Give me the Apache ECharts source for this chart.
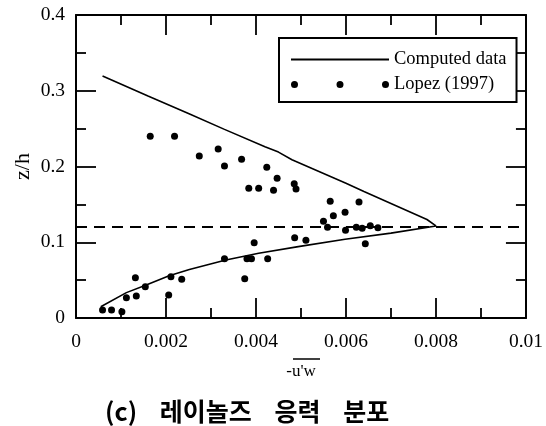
<!DOCTYPE html>
<html>
<head>
<meta charset="utf-8">
<script src="https://cdn.jsdelivr.net/npm/echarts@6/dist/echarts.min.js"></script>
<style>
  html, body { margin: 0; padding: 0; background: #fff; }
  #chart { width: 546px; height: 426px; }
</style>
</head>
<body>
<div id="chart"></div>
<script>
// ---- data ----
const xTickLabels = ['0', '0.002', '0.004', '0.006', '0.008', '0.01'];
const yTickLabels = ['0', '0.1', '0.2', '0.3', '0.4'];

// Computed data: upper branch (top-left to apex) then lower branch (apex to bottom-left)
const computedU = [0.00059, 0.0016, 0.0025, 0.0033, 0.0042, 0.0045, 0.0048, 0.0060, 0.0064, 0.0072, 0.0078, 0.0080,
                   0.0070, 0.00598, 0.00494, 0.00406, 0.00333, 0.00252, 0.00207, 0.00156, 0.00112, 0.00055];
const computedZ = [0.3195, 0.293, 0.270, 0.249, 0.226, 0.219, 0.209, 0.178, 0.167, 0.146, 0.130, 0.1215,
                   0.112, 0.104, 0.0942, 0.0854, 0.0766, 0.064, 0.0557, 0.0436, 0.0335, 0.0149];

// Lopez (1997) measurements
const lopezU = [0.00059, 0.00079, 0.00102, 0.00112, 0.00134, 0.00132, 0.00154, 0.00165, 0.00219, 0.00206,
                0.00211, 0.00235, 0.00274, 0.00316, 0.00330, 0.00330, 0.00368, 0.00384, 0.00406, 0.00375,
                0.00380, 0.00390, 0.00396, 0.00424, 0.00426, 0.00439, 0.00447, 0.00485, 0.00489, 0.00486,
                0.00511, 0.00550, 0.00559, 0.00565, 0.00572, 0.00598, 0.00599, 0.00623, 0.00629, 0.00636,
                0.00643, 0.00654, 0.00671];
const lopezZ = [0.0106, 0.0106, 0.0084, 0.0268, 0.0290, 0.0532, 0.0414, 0.240, 0.240, 0.0304,
                0.0546, 0.0510, 0.2139, 0.2231, 0.2007, 0.0783, 0.2095, 0.1712, 0.1712, 0.0519,
                0.0783, 0.0783, 0.0994, 0.1989, 0.0783, 0.1685, 0.1844, 0.1773, 0.1703, 0.1060,
                0.1026, 0.1276, 0.1197, 0.1540, 0.1351, 0.1395, 0.1157, 0.1197, 0.1531, 0.1184,
                0.0981, 0.1219, 0.1193];

const referenceLevel = 0.1175;

// ---- chart ----
const serif = 'Liberation Serif';
const computedData = computedU.map((u, i) => [u, computedZ[i]]);
const lopezData = lopezU.map((u, i) => [u, lopezZ[i]]);

const tickStyle = { color: '#000', width: 1.8 };
function xAxisBase(position, showLabel) {
  return {
    type: 'value', position: position, min: 0, max: 0.01, interval: 0.002,
    axisLine: { show: true, onZero: false, lineStyle: { color: '#000', width: 2 } },
    axisTick: { show: true, inside: true, length: 20, lineStyle: tickStyle },
    minorTick: { show: true, splitNumber: 2, length: 10, lineStyle: tickStyle },
    splitLine: { show: false }, minorSplitLine: { show: false },
    axisLabel: {
      show: showLabel, margin: 14, color: '#000', fontFamily: serif, fontSize: 19.5,
      formatter: v => xTickLabels[Math.round(v / 0.002)]
    }
  };
}
function yAxisBase(position, showLabel) {
  return {
    type: 'value', position: position, min: 0, max: 0.4, interval: 0.1,
    axisLine: { show: true, onZero: false, lineStyle: { color: '#000', width: 2 } },
    axisTick: { show: true, inside: true, length: 20, lineStyle: tickStyle },
    minorTick: { show: true, splitNumber: 2, length: 10, lineStyle: tickStyle },
    splitLine: { show: false }, minorSplitLine: { show: false },
    axisLabel: {
      show: showLabel, margin: 11, color: '#000', fontFamily: serif, fontSize: 19.5,
      formatter: v => yTickLabels[Math.round(v / 0.1)]
    }
  };
}

const xBottom = xAxisBase('bottom', true);
Object.assign(xBottom, {
  name: "-u'w", nameLocation: 'middle', nameGap: 45, nameMoveOverlap: false,
  nameTextStyle: { color: '#000', fontFamily: serif, fontSize: 17 }
});
const yLeft = yAxisBase('left', true);
Object.assign(yLeft, {
  name: 'z/h', nameLocation: 'middle', nameGap: 42, nameRotate: 90, nameMoveOverlap: false,
  nameTextStyle: { color: '#000', fontFamily: serif, fontSize: 22 }
});

const lineIcon = 'path://M0,0H98V2H0Z';
const dotsIcon = 'path://M0,3.5a3.5,3.5 0 1,0 7,0a3.5,3.5 0 1,0 -7,0M45.5,3.5a3.5,3.5 0 1,0 7,0a3.5,3.5 0 1,0 -7,0M91,3.5a3.5,3.5 0 1,0 7,0a3.5,3.5 0 1,0 -7,0';

const chart = echarts.init(document.getElementById('chart'), null, { renderer: 'canvas' });
chart.setOption({
  animation: false,
  backgroundColor: '#fff',
  title: {
    text: '(c)    레이놀즈    응력    분포',
    left: 105, top: 399,
    padding: 0,
    textStyle: { fontFamily: 'Noto Sans CJK KR', fontWeight: 'bold', fontSize: 25, color: '#000' }
  },
  grid: { left: 76, right: 17, top: 15, bottom: 108, containLabel: false },
  legend: {
    orient: 'vertical', left: 279, top: 38,
    padding: [12, 10, 8, 12],
    itemGap: 6, itemWidth: 98, itemHeight: 7,
    borderColor: '#000', borderWidth: 2, backgroundColor: '#fff',
    textStyle: { color: '#000', fontFamily: serif, fontSize: 18.5 },
    data: [
      { name: 'Computed data', icon: lineIcon },
      { name: 'Lopez (1997)', icon: dotsIcon }
    ]
  },
  xAxis: [xBottom, xAxisBase('top', false)],
  yAxis: [yLeft, yAxisBase('right', false)],
  graphic: [
    { type: 'line', silent: true, shape: { x1: 293, y1: 359, x2: 320, y2: 359 }, style: { stroke: '#000', lineWidth: 1.5 } }
  ],
  series: [
    {
      name: 'Computed data', type: 'line', data: computedData,
      xAxisIndex: 0, yAxisIndex: 0,
      showSymbol: false, symbol: 'none', smooth: false,
      lineStyle: { color: '#000', width: 1.6 }, itemStyle: { color: '#000' },
      markLine: {
        silent: true, symbol: ['none', 'none'], label: { show: false },
        lineStyle: { color: '#000', width: 1.8, type: [11, 7] },
        data: [{ yAxis: referenceLevel }]
      },
      z: 3
    },
    {
      name: 'Lopez (1997)', type: 'scatter', data: lopezData,
      xAxisIndex: 0, yAxisIndex: 0,
      symbol: 'circle', symbolSize: 7,
      itemStyle: { color: '#000', opacity: 1 }, z: 4
    }
  ]
});
</script>
</body>
</html>
